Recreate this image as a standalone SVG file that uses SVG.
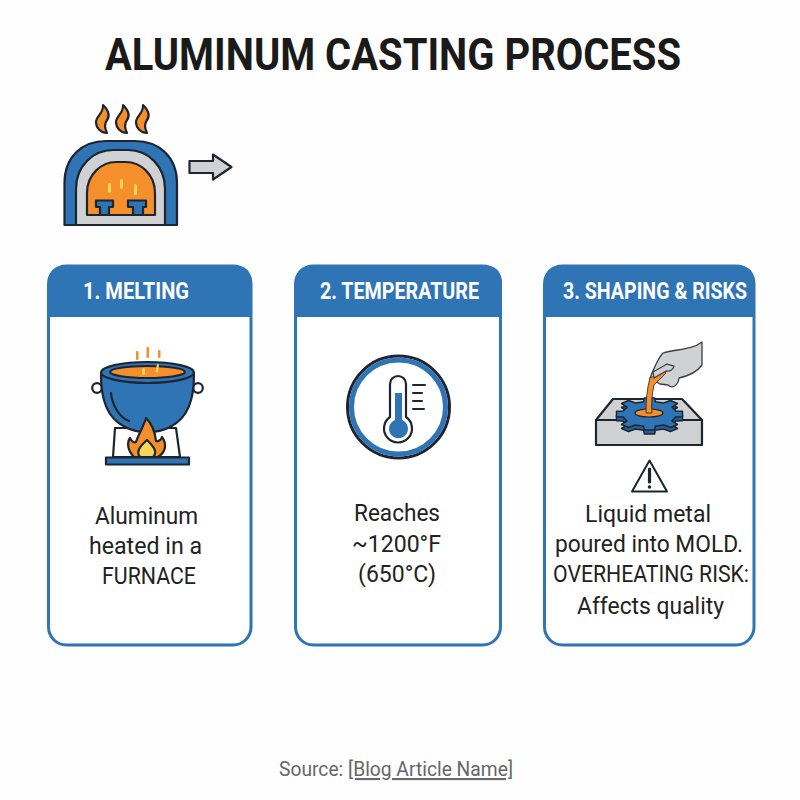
<svg xmlns="http://www.w3.org/2000/svg" width="800" height="800" viewBox="0 0 800 800">
<defs>
<style>
.ln{stroke:#1d2530;stroke-width:2.2;stroke-linejoin:round;stroke-linecap:round}
.blue{fill:#2f74b5}.or{fill:#f58f2c}.gr{fill:#d0d1d3}.wh{fill:#fff}.ye{fill:#f8d65a}
.card{fill:#fff;stroke:#2f74b5;stroke-width:3}
.hd{fill:#2f74b5}
.ht{font-family:Roboto,"Liberation Sans",sans-serif;font-weight:700;font-size:23px;fill:#fff}
.bt{font-family:Roboto,"Liberation Sans",sans-serif;font-size:24px;fill:#222;text-anchor:middle}
.nf{fill:none}
</style>
<polygon id="gear" points="26.500,-2.900 33,-2.700 33,2.700 26.500,2.900 22.500,6.900 28,10.500 21,13.500 14,11 5.800,12.300 5.200,16 -5.200,16 -5.800,12.300 -14,11 -21,13.500 -28,10.500 -22.500,6.900 -26.500,2.900 -33,2.700 -33,-2.700 -26.500,-2.900 -22.500,-6.900 -28,-10.500 -21,-13.500 -14,-11 -5.800,-12.300 -5.200,-16 5.200,-16 5.800,-12.300 14,-11 21,-13.500 28,-10.500 22.500,-6.900"/>
<path id="wisp" d="M2 0C8 6 9 11 6 15C3 19 4 24 6 28C0 28 -5 23 -5 17C-5 11 3 8 2 0Z"/>
</defs>
<rect width="800" height="800" fill="#fefefe"/>
<text x="393" y="70" text-anchor="middle" textLength="576" lengthAdjust="spacingAndGlyphs" style="font-family:Roboto,'Liberation Sans',sans-serif;font-weight:700;font-size:44px;fill:#1a1a1a">ALUMINUM CASTING PROCESS</text>

<g id="furnace">
<path class="blue ln" d="M64.500 225V183C64.500 157 82 141 106 141H135C159 141 177 157 177 183V225Z"/>
<path class="gr ln" d="M76 225V189C76 166 93 150 113 150H128C148 150 165 166 165 189V225Z"/>
<path class="or ln" d="M87 215V193C87 174 102 162 116 162H126C140 162 155 174 155 193V215Z"/>
<path class="blue ln" d="M96 200.500H113V207H109V215H100V207H96ZM128 200.500H146V207H143V215H133V207H128Z"/>
<g class="ye"><rect x="108" y="183" width="3" height="10" rx="1.500"/><rect x="120" y="179" width="3" height="10" rx="1.500"/><rect x="134" y="184" width="3" height="11" rx="1.500"/></g>
<use href="#wisp" x="101" y="105" class="or ln"/>
<use href="#wisp" x="121" y="105" class="or ln"/>
<use href="#wisp" x="141" y="105" class="or ln"/>
</g>

<g id="connectors">
<polygon class="gr ln" points="189.500,161 213,161 213,154.500 231.500,167 213,179.500 213,173 189.500,173"/>
</g>

<g id="card-melting">
<rect class="card" x="48.500" y="266" width="202.500" height="379" rx="18"/>
<path class="hd" d="M48 317V284Q48 265 67 265H233Q252 265 252 284V317Z"/>
<text class="ht" x="83" y="299" textLength="106" lengthAdjust="spacingAndGlyphs">1. MELTING</text>
<path class="wh ln" d="M113 457L115 428H176L180 457Z"/>
<circle class="wh ln" cx="97" cy="388" r="4.800"/><circle class="wh ln" cx="198" cy="388" r="4.800"/>
<path class="blue ln" d="M101 374C101 400 107 418 125 427C138 434 157 434 170 427C188 418 194 400 194 374Z"/>
<ellipse class="blue ln" cx="147.500" cy="372.500" rx="46.500" ry="10.500"/>
<ellipse class="or ln" cx="147.500" cy="372" rx="37.500" ry="6"/>
<path class="nf ln" d="M111 393C112 403 118 417 129 421"/>
<g class="ye"><rect x="142" y="368" width="3" height="7" rx="1.500"/><path d="M157 364l2 .5l-1 8l-2.500 -.5z"/></g>
<g class="or"><rect x="136" y="351" width="2.500" height="9" rx="1"/><rect x="146.500" y="347" width="2.500" height="11" rx="1"/><rect x="158" y="350" width="2.500" height="8" rx="1"/></g>
<path class="or ln" d="M134 457C127 450 127 442 130 438C132 442 134 443 136 442C138 435 143 428 146 418C151 423 155 431 156 441C158 442 161 440 162 437C167 444 166 452 158 457Z"/>
<path class="ye ln" d="M140 457C136 452 139 447 147 440C154 447 158 452 153 457Z"/>
<rect class="blue ln" x="106" y="457.500" width="83" height="7"/>
<text class="bt"><tspan x="95" y="524" text-anchor="start" textLength="103" lengthAdjust="spacingAndGlyphs">Aluminum</tspan><tspan x="89" y="554" text-anchor="start" textLength="113" lengthAdjust="spacingAndGlyphs">heated in a</tspan><tspan x="102" y="584" text-anchor="start" textLength="94" lengthAdjust="spacingAndGlyphs">FURNACE</tspan></text>
</g>

<g id="card-temperature">
<rect class="card" x="295.500" y="266" width="205" height="379" rx="18"/>
<path class="hd" d="M295 317V284Q295 265 314 265H483Q502 265 502 284V317Z"/>
<text class="ht" x="320" y="299" textLength="159" lengthAdjust="spacingAndGlyphs">2. TEMPERATURE</text>
<circle cx="398.500" cy="407" r="51" fill="#fff" stroke="#1d2530" stroke-width="3"/>
<circle cx="398.500" cy="407" r="47" fill="none" stroke="#2f74b5" stroke-width="5"/>
<path class="wh ln" d="M390 417V384A8 8 0 0 1 406 384V417A14 14 0 1 1 390 417Z"/>
<path class="blue" d="M395 393H402V420A9.500 9.500 0 1 1 395 420Z"/>
<path class="nf ln" style="stroke-width:2" d="M413 385H425M413 393H422M413 401H422M413 409H424"/>
<text class="bt"><tspan x="354" y="521" text-anchor="start" textLength="86" lengthAdjust="spacingAndGlyphs">Reaches</tspan><tspan x="352" y="552" text-anchor="start" textLength="89" lengthAdjust="spacingAndGlyphs">~1200°F</tspan><tspan x="358" y="582" text-anchor="start" textLength="78" lengthAdjust="spacingAndGlyphs">(650°C)</tspan></text>
</g>

<g id="card-shaping">
<rect class="card" x="544.500" y="266" width="209.500" height="379" rx="18"/>
<path class="hd" d="M544 317V284Q544 265 563 265H736Q755 265 755 284V317Z"/>
<text class="ht" x="563" y="299" textLength="184" lengthAdjust="spacingAndGlyphs">3. SHAPING &amp; RISKS</text>
<polygon class="gr ln" points="596,420 613,399 682,399 702,420"/>
<rect class="gr ln" x="596" y="420" width="106" height="25"/>
<use href="#gear" x="649.500" y="418" fill="#24609b" class="ln" style="stroke-width:1.500"/>
<use href="#gear" x="649.500" y="414" class="blue ln" style="stroke-width:1.500"/>
<ellipse class="or ln" cx="649" cy="413" rx="14" ry="4" style="stroke-width:1.200"/>
<path class="gr" style="stroke:#3a3f45;stroke-width:1.300;stroke-linejoin:round" d="M702 342C692 350 676 349 663 353C658 358 654 368 650 378L660 384L668 385C672 389 678 386 679 378C688 376 697 372 702 365Z"/>
<path class="or" d="M650 378L664 371L666 373L654 385C652 394 651 404 652 413H646C646 400 647 388 650 378Z" style="stroke:#1d2530;stroke-width:.8"/>
<path class="gr" style="stroke:#3a3f45;stroke-width:1.300;stroke-linejoin:round" d="M653 372L667 364L674 366C674 369 670 372 666 371L654 378Z"/>
<path class="wh" style="stroke:#1d2530;stroke-width:2;stroke-linejoin:round" d="M649.500 460.500L632 491.500H667Z"/>
<path d="M649.500 469V482" stroke="#1d2530" stroke-width="3.200" stroke-linecap="round"/><circle cx="649.500" cy="487" r="1.800" fill="#1d2530"/>
<text class="bt"><tspan x="585" y="522" text-anchor="start" textLength="126" lengthAdjust="spacingAndGlyphs">Liquid metal</tspan><tspan x="555" y="552" text-anchor="start" textLength="188" lengthAdjust="spacingAndGlyphs">poured into MOLD.</tspan><tspan x="553" y="582" text-anchor="start" textLength="196" lengthAdjust="spacingAndGlyphs">OVERHEATING RISK:</tspan><tspan x="577" y="614" text-anchor="start" textLength="147" lengthAdjust="spacingAndGlyphs">Affects quality</tspan></text>
</g>

<text x="279" y="776" textLength="234" lengthAdjust="spacingAndGlyphs" style="font-family:Roboto,'Liberation Sans',sans-serif;font-size:21px;fill:#666">Source: <tspan text-decoration="underline">[Blog Article Name]</tspan></text>
</svg>
